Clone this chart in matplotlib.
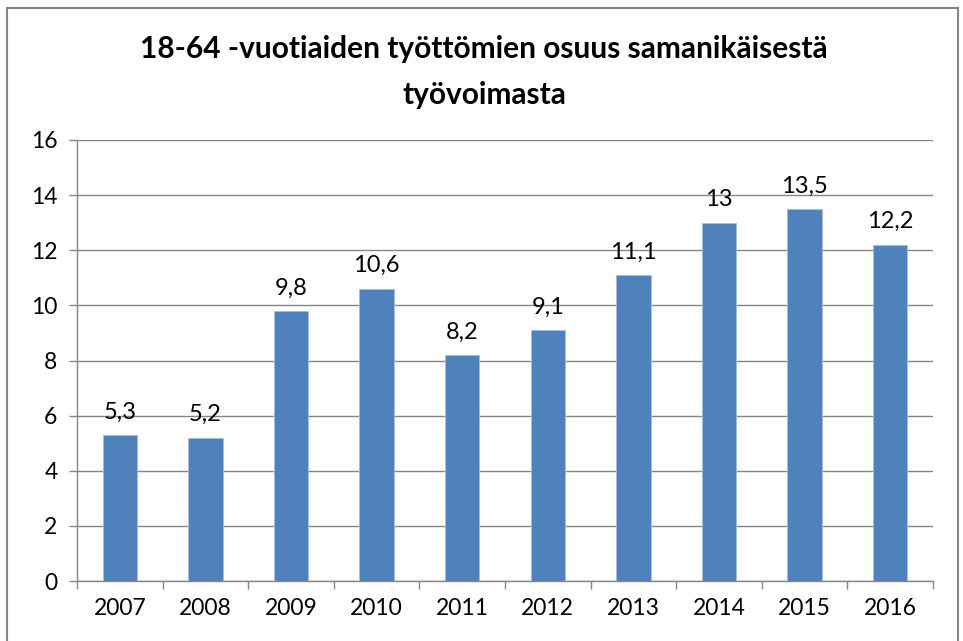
import matplotlib
matplotlib.use("Agg")
import matplotlib.pyplot as plt
from matplotlib.patches import Rectangle

years = ["2007", "2008", "2009", "2010", "2011", "2012", "2013", "2014", "2015", "2016"]
values = [5.3, 5.2, 9.8, 10.6, 8.2, 9.1, 11.1, 13.0, 13.5, 12.2]
labels = ["5,3", "5,2", "9,8", "10,6", "8,2", "9,1", "11,1", "13", "13,5", "12,2"]
title = "18-64 -vuotiaiden työttömien osuus samanikäisestä\ntyövoimasta"

plt.rcParams['font.family'] = ['Lato', 'DejaVu Sans']

fig = plt.figure(figsize=(9.63, 6.41), dpi=100)
fig.patch.set_facecolor("white")
ax = fig.add_axes([77/963, 60/641, 856/963, 441/641])

x = list(range(len(years)))
ax.bar(x, values, width=0.4, color="#4F81BD", edgecolor="#A7C0DE", linewidth=0.6, zorder=3)
for xi, v, lab in zip(x, values, labels):
    ax.annotate(lab, (xi, v), xytext=(0, 9), textcoords="offset points",
                ha="center", va="bottom", fontsize=17, color="black", zorder=4)

ax.set_xlim(-0.5, len(years) - 0.5)
ax.set_ylim(0, 16)
ax.set_yticks(range(0, 17, 2))
ax.set_yticklabels([str(t) for t in range(0, 17, 2)], fontsize=16.5)
ax.yaxis.grid(True, color="#868686", linewidth=1.0, zorder=0)
ax.set_axisbelow(True)

ax.set_xticks(x)
ax.set_xticklabels(years, fontsize=16.5)
ax.set_xticks([i - 0.5 for i in range(len(years) + 1)], minor=True)
ax.tick_params(axis="x", which="major", length=0, pad=12)
ax.tick_params(axis="x", which="minor", length=6, color="#868686", width=1.0)
ax.tick_params(axis="y", length=6, color="#868686", width=1.0, pad=8)

for s in ["top", "right"]:
    ax.spines[s].set_visible(False)
for s in ["left", "bottom"]:
    ax.spines[s].set_color("#868686")
    ax.spines[s].set_linewidth(1.0)

fig.text(484/963, 1 - 72/641, title, ha="center", va="center", fontsize=21.5,
         fontweight="bold", linespacing=1.75)

fig.patches.append(Rectangle((7/963, -0.02), 951/963, 1.02 - 8/641, transform=fig.transFigure,
                             fill=False, edgecolor="#868686", linewidth=1.5))

fig.savefig("out.png", dpi=100)
